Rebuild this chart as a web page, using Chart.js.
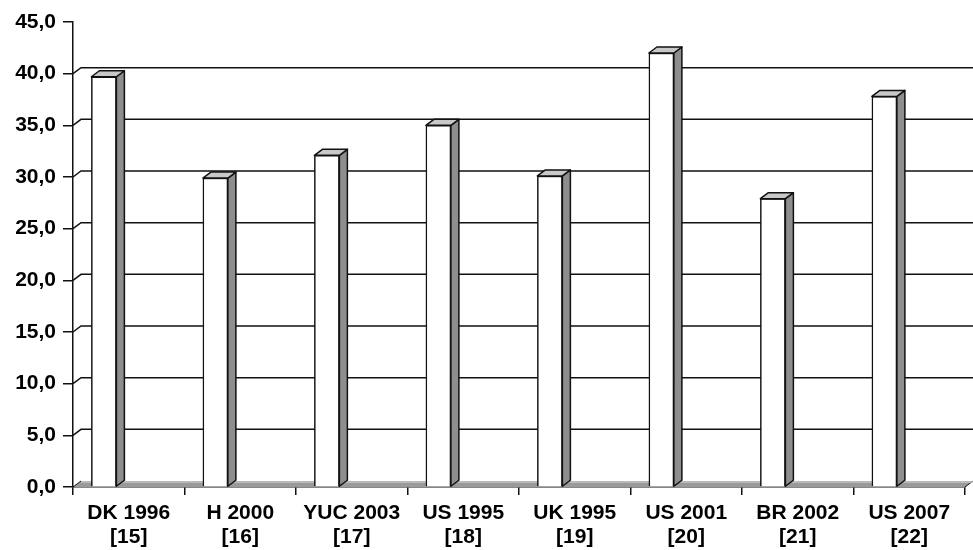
<!DOCTYPE html>
<html>
<head>
<meta charset="utf-8">
<script src="https://cdn.jsdelivr.net/npm/chart.js@4/dist/chart.umd.min.js"></script>
<style>
  html, body { margin: 0; padding: 0; background: #fff; }
  #wrap { width: 973px; height: 550px; }
</style>
</head>
<body>
<div id="wrap"><canvas id="barChart" width="973" height="550"></canvas></div>
<script>
// data
const categories = ['DK 1996', 'H 2000', 'YUC 2003', 'US 1995', 'UK 1995', 'US 2001', 'BR 2002', 'US 2007'];
const refs = ['[15]', '[16]', '[17]', '[18]', '[19]', '[20]', '[21]', '[22]'];
const values = [39.7, 29.9, 32.1, 35.0, 30.1, 42.0, 27.9, 37.8];
const yTicks = [0, 5, 10, 15, 20, 25, 30, 35, 40, 45];

const DX = 8, DY = -6; // fake 3d depth

// back wall grid + floor, then the side/top faces of each column
const fake3d = {
    id: 'fake3d',
    beforeDatasetsDraw(chart) {
        const ctx = chart.ctx;
        const a = chart.chartArea;
        const y = chart.scales.y;
        ctx.save();
        ctx.strokeStyle = '#111';
        ctx.lineWidth = 1.5;
        yTicks.forEach(t => {
            if (t === 0 || t === 45) return;
            const py = y.getPixelForValue(t);
            ctx.beginPath();
            ctx.moveTo(a.left, py);
            ctx.lineTo(a.left + DX, py + DY);
            ctx.lineTo(a.right + DX, py + DY);
            ctx.stroke();
        });
        // floor
        const b = y.getPixelForValue(0);
        ctx.beginPath();
        ctx.moveTo(a.left, b);
        ctx.lineTo(a.left + DX, b + DY);
        ctx.lineTo(a.right + DX, b + DY);
        ctx.lineTo(a.right, b);
        ctx.closePath();
        ctx.fillStyle = '#9a9a9a';
        ctx.fill();
        ctx.lineWidth = 1;
        ctx.strokeStyle = '#111';
        ctx.beginPath();
        ctx.moveTo(a.left, b);
        ctx.lineTo(a.left + DX, b + DY);
        ctx.moveTo(a.right, b);
        ctx.lineTo(a.right + DX, b + DY);
        ctx.stroke();
        ctx.strokeStyle = '#c4c4c4';
        ctx.lineWidth = 1.5;
        ctx.beginPath();
        ctx.moveTo(a.left + DX, b + DY + 1);
        ctx.lineTo(a.right + DX, b + DY + 1);
        ctx.stroke();
        ctx.restore();
    },
    afterDatasetsDraw(chart) {
        const ctx = chart.ctx;
        ctx.save();
        ctx.lineWidth = 1.5;
        ctx.strokeStyle = '#111';
        ctx.lineJoin = 'round';
        chart.getDatasetMeta(0).data.forEach(bar => {
            const p = bar.getProps(['x', 'y', 'width', 'base'], true);
            const l = p.x - p.width / 2, r = p.x + p.width / 2;
            // side
            ctx.beginPath();
            ctx.moveTo(r, p.y);
            ctx.lineTo(r + DX, p.y + DY);
            ctx.lineTo(r + DX, p.base + DY);
            ctx.lineTo(r, p.base);
            ctx.closePath();
            ctx.fillStyle = '#8e8e8e';
            ctx.fill();
            ctx.stroke();
            // top
            ctx.beginPath();
            ctx.moveTo(l, p.y);
            ctx.lineTo(l + DX, p.y + DY);
            ctx.lineTo(r + DX, p.y + DY);
            ctx.lineTo(r, p.y);
            ctx.closePath();
            ctx.fillStyle = '#c8c8c8';
            ctx.fill();
            ctx.stroke();
        });
        ctx.restore();
    }
};

const ctx = document.getElementById('barChart').getContext('2d');
const barChart = new Chart(ctx, {
    type: 'bar',
    data: {
        labels: categories.map((c, i) => [c, refs[i]]),
        datasets: [{
            data: values.map((v, i) => ({ x: i, y: v })),
            xAxisID: 'xb',
            backgroundColor: '#ffffff',
            borderColor: '#111',
            borderWidth: 1.5,
            barThickness: 25
        }]
    },
    options: {
        responsive: false,
        animation: false,
        devicePixelRatio: 1,
        layout: { padding: { top: 22, right: 8, left: 0, bottom: 0 } },
        plugins: { legend: { display: false }, tooltip: { enabled: false } },
        scales: {
            x: {
                type: 'category',
                offset: true,
                grid: { offset: true, drawOnChartArea: false, drawTicks: true, tickLength: 8, color: '#111', lineWidth: 1.5 },
                border: { color: '#111', width: 1.5 },
                ticks: { color: '#000', font: { family: '"Liberation Sans", Arial, sans-serif', size: 21, weight: 'bold', lineHeight: 1.15 }, padding: 6, maxRotation: 0 },
                afterFit: s => { s.height = 63; }
            },
            xb: {
                type: 'linear',
                display: false,
                offset: false,
                grid: { offset: false },
                min: -0.277,
                max: 7.723
            },
            y: {
                min: 0,
                max: 45,
                afterBuildTicks: s => { s.ticks = yTicks.map(v => ({ value: v })); },
                grid: { drawOnChartArea: false, drawTicks: true, tickLength: 10, color: '#111', lineWidth: 1.5 },
                border: { color: '#111', width: 1.5 },
                ticks: {
                    color: '#000',
                    font: { family: '"Liberation Sans", Arial, sans-serif', size: 21, weight: 'bold' },
                    padding: 7,
                    callback: v => v.toFixed(1).replace('.', ',')
                },
                afterFit: s => { s.width = 73; }
            }
        }
    },
    plugins: [fake3d]
});
</script>
</body>
</html>
